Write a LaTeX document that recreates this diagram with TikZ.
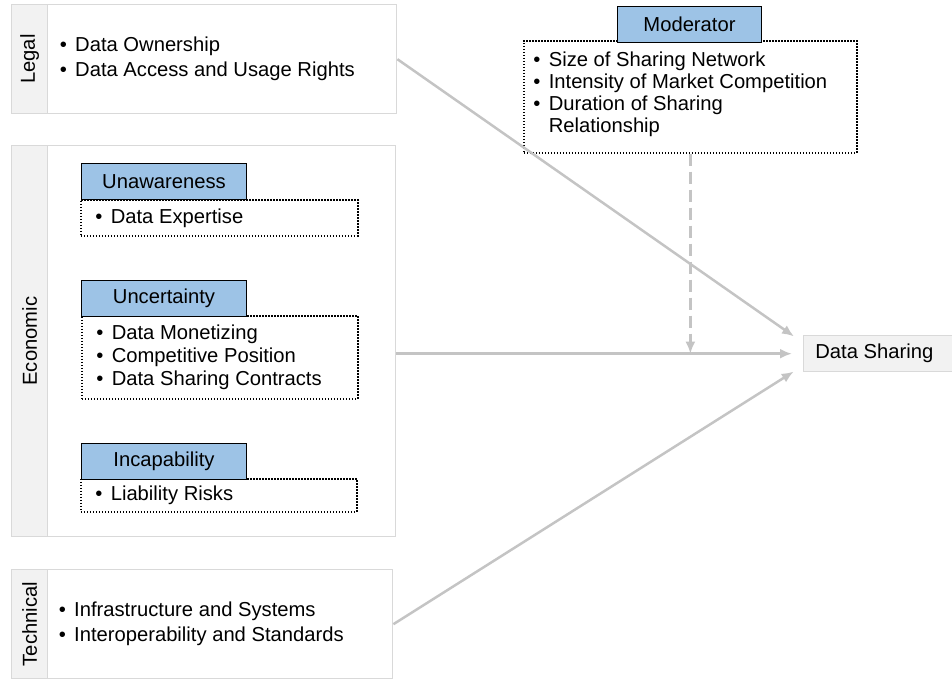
\documentclass[tikz,border=0pt]{standalone}
\usepackage{fontspec}
\setmainfont{Liberation Sans}
\usetikzlibrary{arrows.meta}
\definecolor{hdblue}{HTML}{9DC3E6}
\definecolor{stripgray}{HTML}{F2F2F2}
\definecolor{edgegray}{HTML}{D9D9D9}
\definecolor{linegray}{HTML}{C4C4C4}
\newcommand{\itm}[1]{\makebox[7.7pt][l]{•}#1}
\tikzset{
  catbox/.style={draw=edgegray,line width=0.7pt,fill=white,anchor=north west,inner sep=0pt},
  stripbox/.style={draw=edgegray,line width=0.7pt,fill=stripgray,anchor=north west,inner sep=0pt,minimum width=18pt},
  header/.style={draw=black,line width=0.5pt,fill=hdblue,anchor=north west,inner sep=0pt,minimum width=82.5pt,minimum height=18pt},
  dotbox/.style={draw=black,line width=0.85pt,dash pattern=on 0.75pt off 0.75pt,anchor=north west,inner sep=0pt},
  itemlist/.style={align=left,anchor=west,inner sep=0pt,font=\fontsize{10.1}{11.5}\selectfont},
  flow/.style={draw=linegray,line width=1.25pt,-{Latex[length=6pt,width=5pt]}}
}
\begin{document}
\begin{tikzpicture}[x=0.5pt,y=-0.5pt,font=\fontsize{10.1}{12}\selectfont]
\useasboundingbox (0,0) rectangle (952,679);

% legal
\node[catbox,minimum width=192.5pt,minimum height=54.5pt] (legal) at (11,4) {};
\node[stripbox,minimum height=54.5pt] (legalstrip) at (11,4) {};
\node[rotate=90] at (legalstrip.center) {Legal};
\node[itemlist,font=\fontsize{10.1}{12.5}\selectfont] at ([xshift=5.5pt]legalstrip.east)
  {\itm{Data Ownership}\\\itm{Data Access and Usage Rights}};

% economic
\node[catbox,minimum width=192pt,minimum height=195.5pt] (economic) at (11,145) {};
\node[stripbox,minimum height=195.5pt] (economicstrip) at (11,145) {};
\node[rotate=90] at (economicstrip.center) {Economic};

\node[dotbox,minimum width=138.5pt,minimum height=18pt] (unawarelist) at (80,199) {};
\node[header] (unaware) at (81,163) {Unawareness};
\node[itemlist] at ([xshift=7.5pt]unawarelist.west) {\itm{Data Expertise}};

\node[dotbox,minimum width=138pt,minimum height=41.5pt] (uncertainlist) at (81,315) {};
\node[header] (uncertain) at (81,280) {Uncertainty};
\node[itemlist] at ([xshift=7.5pt]uncertainlist.west)
  {\itm{Data Monetizing}\\\itm{Competitive Position}\\\itm{Data Sharing Contracts}};

\node[dotbox,minimum width=138pt,minimum height=16.5pt] (incaplist) at (80,478) {};
\node[header] (incap) at (81,443) {Incapability};
\node[itemlist] at ([xshift=7.5pt]incaplist.west) {\itm{Liability Risks}};

% technical
\node[catbox,minimum width=190.5pt,minimum height=54.5pt] (technical) at (11,569) {};
\node[stripbox,minimum height=54.5pt] (technicalstrip) at (11,569) {};
\node[rotate=90] at (technicalstrip.center) {Technical};
\node[itemlist,font=\fontsize{10.1}{12.5}\selectfont] at ([xshift=5pt]technicalstrip.east)
  {\itm{Infrastructure and Systems}\\\itm{Interoperability and Standards}};

% moderator
\node[dotbox,minimum width=166.5pt,minimum height=56pt] (modlist) at (523,40) {};
\node[header,minimum width=72pt] (mod) at (617,6) {Moderator};
\node[itemlist,anchor=north west,font=\fontsize{10.1}{11}\selectfont] at ([xshift=5pt,yshift=-5.5pt]modlist.north west)
  {\itm{Size of Sharing Network}\\\itm{Intensity of Market Competition}\\\itm{Duration of Sharing}\\\hspace*{7.7pt}Relationship};

% outcome
\node[catbox,fill=stripgray,minimum width=74.5pt,minimum height=18pt] (share) at (803,335) {};
\node[anchor=west,inner sep=0pt] at ([xshift=6pt]share.west) {Data Sharing};

\draw[flow,shorten >=5.5pt] (legal.east) -- ([yshift=5.5pt]share.west);
\draw[flow,shorten >=5.5pt] (economic.east |- share.west) -- (share.west);
\draw[flow,shorten >=5.5pt] (technical.east) -- ([yshift=-6pt]share.west);
\draw[flow,dash pattern=on 6pt off 3pt] (modlist.south) -- (modlist.south |- share.west);
\end{tikzpicture}
\end{document}
